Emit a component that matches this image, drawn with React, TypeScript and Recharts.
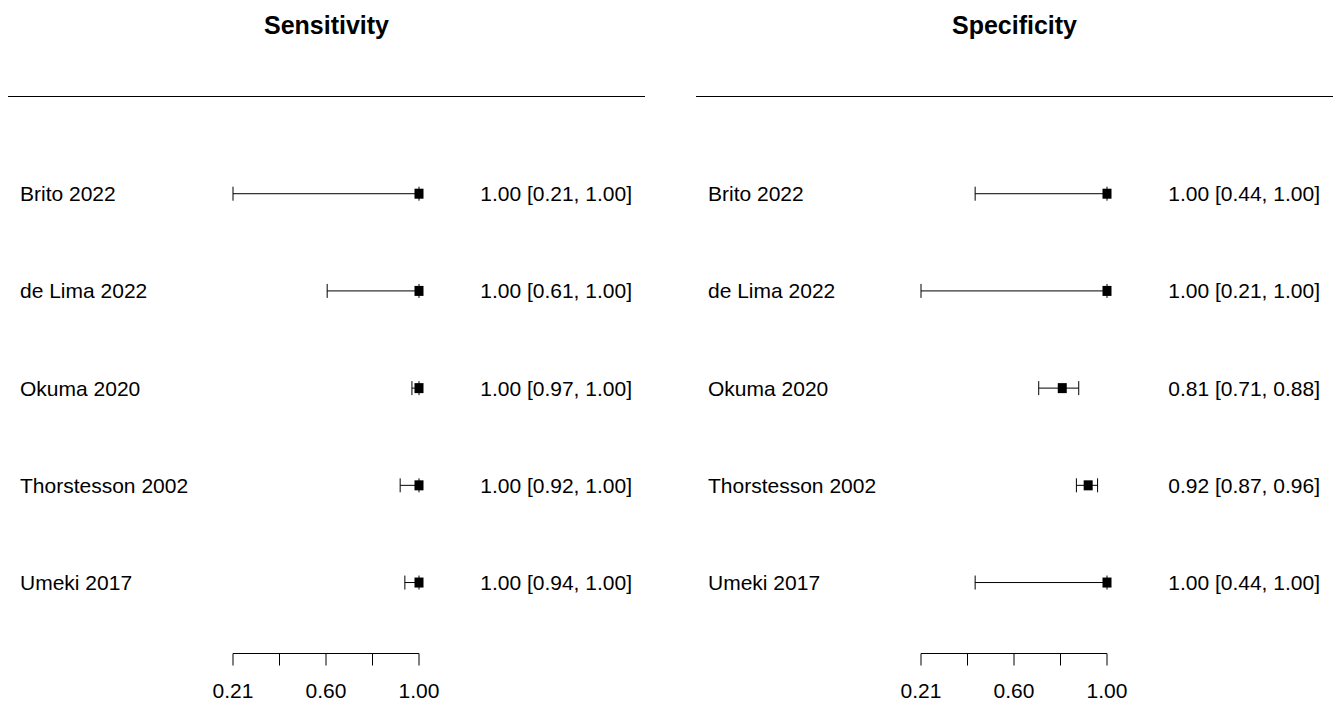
import React from "react";
import {
  ScatterChart,
  Scatter,
  XAxis,
  YAxis,
  ErrorBar,
  ReferenceLine,
} from "recharts";

const studies = ["Brito 2022", "de Lima 2022", "Okuma 2020", "Thorstesson 2002", "Umeki 2017"];

const sensEst = [1.0, 1.0, 1.0, 1.0, 1.0];
const sensLo = [0.21, 0.61, 0.97, 0.92, 0.94];
const sensHi = [1.0, 1.0, 1.0, 1.0, 1.0];

const specEst = [1.0, 1.0, 0.81, 0.92, 1.0];
const specLo = [0.44, 0.21, 0.71, 0.87, 0.44];
const specHi = [1.0, 1.0, 0.88, 0.96, 1.0];

const axisTicks = [0.21, 0.4075, 0.605, 0.8025, 1.0];
const axisTickLabels = ["0.21", "", "0.60", "", "1.00"];
const rowTicks = [1, 2, 3, 4, 5];

const FONT = "'Liberation Sans', Arial, sans-serif";
const X_DOMAIN: [number, number] = [-0.74566, 1.9599];
const Y_DOMAIN: [number, number] = [0.27, 6];
const PLOT_W = 637;

type Row = { y: number; x: number; err: [number, number]; name: string; ci: string };

function buildRows(est: number[], lo: number[], hi: number[]): Row[] {
  return studies.map((name, i) => ({
    y: studies.length - i,
    x: est[i],
    err: [est[i] - lo[i], hi[i] - est[i]],
    name,
    ci: `${est[i].toFixed(2)} [${lo[i].toFixed(2)}, ${hi[i].toFixed(2)}]`,
  }));
}

const Box = (props: any) => {
  const { cx, cy } = props;
  if (cx == null || cy == null) return null;
  return <rect x={cx - 4.5} y={cy - 5} width={9} height={10} fill="#000" />;
};

function Panel({ title, rows, left }: { title: string; rows: Row[]; left: number }) {
  const byRow: Record<string, Row> = {};
  rows.forEach((r) => (byRow[String(r.y)] = r));
  const renderRowTick = (props: any) => {
    const { y, payload } = props;
    const r = byRow[String(payload && payload.value)];
    if (!r) return <g />;
    return (
      <g>
        <text x={20} y={y} dy="0.355em" textAnchor="start" fontSize={21} fontFamily={FONT} fill="#000">
          {r.name}
        </text>
        <text x={632} y={y} dy="0.355em" textAnchor="end" fontSize={21} fontFamily={FONT} fill="#000">
          {r.ci}
        </text>
      </g>
    );
  };
  const chartW = 8 + PLOT_W + 22;
  return (
    <div style={{ position: "absolute", left, top: 0, width: chartW, height: 704 }}>
      <div
        style={{
          position: "absolute",
          left: 8,
          width: PLOT_W,
          top: 10,
          textAlign: "center",
          fontFamily: FONT,
          fontWeight: "bold",
          fontSize: 25,
          lineHeight: "30px",
          color: "#000",
        }}
      >
        {title}
      </div>
      <ScatterChart width={chartW} height={704} margin={{ top: 96.5, right: 22, bottom: 0, left: 0 }}>
        <XAxis
          type="number"
          dataKey="x"
          domain={X_DOMAIN}
          allowDataOverflow
          ticks={axisTicks}
          tickFormatter={(v: number) => axisTickLabels[axisTicks.indexOf(v)] ?? ""}
          interval={0}
          axisLine={false}
          tickSize={12}
          tickMargin={18}
          height={50.5}
          tickLine={{ stroke: "#000", strokeWidth: 1 }}
          tick={{ fontSize: 21, fontFamily: FONT, fill: "#000" }}
        />
        <YAxis
          type="number"
          dataKey="y"
          domain={Y_DOMAIN}
          allowDataOverflow
          ticks={rowTicks}
          interval={0}
          width={8}
          axisLine={false}
          tickLine={false}
          tickSize={0}
          tickMargin={0}
          tick={renderRowTick}
        />
        <ReferenceLine y={6} stroke="#000" strokeWidth={1} />
        <ReferenceLine
          segment={[
            { x: axisTicks[0], y: Y_DOMAIN[0] },
            { x: axisTicks[axisTicks.length - 1], y: Y_DOMAIN[0] },
          ]}
          stroke="#000"
          strokeWidth={1}
        />
        <Scatter data={rows} shape={<Box />} isAnimationActive={false}>
          <ErrorBar dataKey="err" direction="x" width={7} stroke="#000" strokeWidth={1} />
        </Scatter>
      </ScatterChart>
    </div>
  );
}

export default function App() {
  const sensRows = buildRows(sensEst, sensLo, sensHi);
  const specRows = buildRows(specEst, specLo, specHi);
  return (
    <div style={{ position: "absolute", left: 0, top: 0, width: 1334, height: 704, background: "#fff" }}>
      <Panel title="Sensitivity" rows={sensRows} left={0} />
      <Panel title="Specificity" rows={specRows} left={688} />
    </div>
  );
}
